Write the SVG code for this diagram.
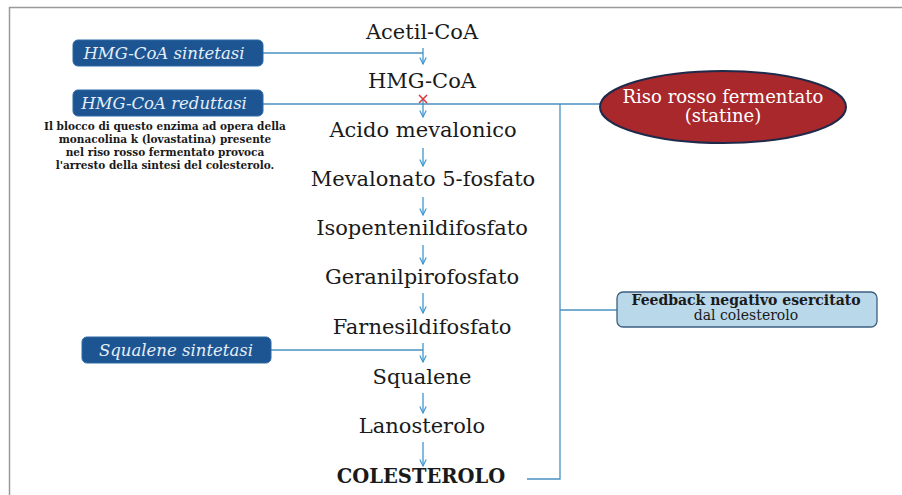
<svg xmlns="http://www.w3.org/2000/svg" width="902" height="495" viewBox="0 0 902 495">
<defs>
<style>
.step{font-family:"DejaVu Serif","Liberation Serif",serif;font-size:21px;fill:#1a1a1a;text-anchor:middle}
.enz{font-family:"DejaVu Serif","Liberation Serif",serif;font-size:16.5px;font-style:italic;fill:#e6eef6;text-anchor:middle}
.ebox{fill:#1c5592;stroke:#2d6aa6;stroke-width:1}
.arr{stroke:#3f97d0;stroke-width:1.3;fill:none;marker-end:url(#ah)}
.conn{stroke:#4a8fc0;stroke-width:1.3;fill:none}
.note{font-family:"DejaVu Serif","Liberation Serif",serif;font-size:10.5px;font-weight:bold;fill:#1a1a1a;text-anchor:middle}
.ell{font-family:"DejaVu Serif","Liberation Serif",serif;font-size:18px;fill:#ffffff;text-anchor:middle}
.fb{font-family:"DejaVu Serif","Liberation Serif",serif;font-size:14px;fill:#1a1a1a;text-anchor:middle}
</style>
<marker id="ah" viewBox="0 0 10 10" refX="9" refY="5" markerWidth="8" markerHeight="8" markerUnits="userSpaceOnUse" orient="auto">
<path d="M1,1 L9,5 L1,9" fill="none" stroke="#3f97d0" stroke-width="1.5"/>
</marker>
</defs>
<rect width="902" height="495" fill="#ffffff"/>
<path d="M902,7.5 H9.5 V495" fill="none" stroke="#9a9a9a" stroke-width="1.5"/>

<g id="connectors">
<line class="arr" x1="423" y1="48" x2="423" y2="64"/>
<line class="arr" x1="423" y1="98" x2="423" y2="117"/>
<line class="arr" x1="423" y1="148" x2="423" y2="166"/>
<line class="arr" x1="423" y1="197" x2="423" y2="215"/>
<line class="arr" x1="423" y1="245" x2="423" y2="264"/>
<line class="arr" x1="423" y1="293" x2="423" y2="313"/>
<line class="arr" x1="423" y1="343" x2="423" y2="362"/>
<line class="arr" x1="423" y1="393" x2="423" y2="413"/>
<line class="arr" x1="423" y1="442" x2="423" y2="466"/>
<line class="conn" x1="263" y1="53" x2="423" y2="53"/>
<line class="conn" x1="263" y1="104" x2="600" y2="104"/>
<line class="conn" x1="271" y1="350" x2="423" y2="350"/>
<polyline class="conn" points="560,104 560,479 527,479"/>
<line class="conn" x1="560" y1="310" x2="617" y2="310"/>
<path d="M419,95 L427,103 M427,95 L419,103" stroke="#d8353a" stroke-width="1.5"/>
</g>

<g id="acetil-coa"><text class="step" x="422" y="39">Acetil-CoA</text></g>
<g id="hmg-coa"><text class="step" x="422" y="88">HMG-CoA</text></g>
<g id="acido-mevalonico"><text class="step" x="423" y="137">Acido mevalonico</text></g>
<g id="mevalonato"><text class="step" x="423" y="186">Mevalonato 5-fosfato</text></g>
<g id="isopentenil"><text class="step" x="422" y="235">Isopentenildifosfato</text></g>
<g id="geranil"><text class="step" x="422" y="284">Geranilpirofosfato</text></g>
<g id="farnesil"><text class="step" x="422" y="334">Farnesildifosfato</text></g>
<g id="squalene"><text class="step" x="422" y="384">Squalene</text></g>
<g id="lanosterolo"><text class="step" x="422" y="433">Lanosterolo</text></g>
<g id="colesterolo"><text class="step" x="421" y="483" style="font-weight:bold;font-size:19.5px">COLESTEROLO</text></g>

<g id="hmg-sintetasi">
<rect class="ebox" x="73" y="40" width="190" height="26" rx="5"/>
<text class="enz" x="164" y="59">HMG-CoA sintetasi</text>
</g>
<g id="hmg-reduttasi">
<rect class="ebox" x="73" y="90" width="190" height="26" rx="5"/>
<text class="enz" x="164" y="109">HMG-CoA reduttasi</text>
</g>
<g id="nota">
<text class="note" x="165" y="130">Il blocco di questo enzima ad opera della</text>
<text class="note" x="165" y="143">monacolina k (lovastatina) presente</text>
<text class="note" x="165" y="156">nel riso rosso fermentato provoca</text>
<text class="note" x="165" y="169">l'arresto della sintesi del colesterolo.</text>
</g>
<g id="squalene-sintetasi">
<rect class="ebox" x="82" y="337" width="189" height="26" rx="5"/>
<text class="enz" x="176" y="356">Squalene sintetasi</text>
</g>
<g id="riso-rosso">
<ellipse cx="723" cy="107" rx="123" ry="36" fill="#a8282c" stroke="#1f2a4a" stroke-width="2"/>
<text class="ell" x="723" y="103">Riso rosso fermentato</text>
<text class="ell" x="723" y="122">(statine)</text>
</g>
<g id="feedback">
<rect x="617" y="292" width="260" height="35" rx="6" fill="#b9d8ea" stroke="#3c5f80" stroke-width="1.3"/>
<text class="fb" x="746" y="305" style="font-weight:bold">Feedback negativo esercitato</text>
<text class="fb" x="746" y="320">dal colesterolo</text>
</g>
</svg>
